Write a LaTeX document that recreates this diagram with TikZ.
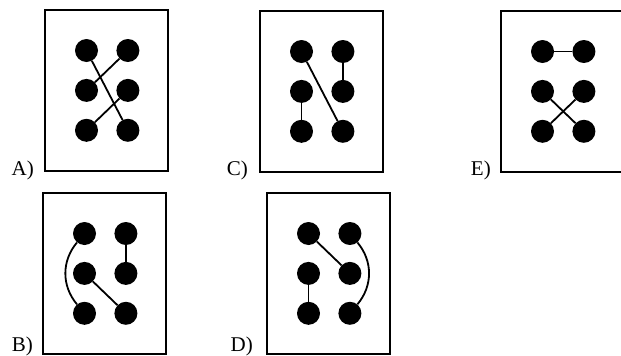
\documentclass[tikz,border=0pt]{standalone}
\usepackage{fontspec}
\setmainfont{Liberation Serif}
\usetikzlibrary{positioning}

\begin{document}
\begin{tikzpicture}[
    x=1pt, y=-1pt,
    % framed answer panel
    panel/.style={draw=black, line width=1.7pt},
    % black dot
    dotnode/.style={circle, fill=black, inner sep=0pt, minimum size=23pt},
    % line between two dots
    link/.style={draw=black, line width=1.8pt},
    % answer letter
    answer/.style={font=\fontsize{21}{25}\selectfont, inner sep=0pt, anchor=base east}
]
\useasboundingbox (0,0) rectangle (621,356);
\clip (0,0) rectangle (621,356);
% ── Panels with a 2x3 grid of dots ───────────────────────────
\foreach \p/\bx/\by in {A/45/10, B/43/193, C/260/11, D/267/193, E/501/11}{
    \draw[panel] (\bx,\by) rectangle ++(123,161);
    \node[dotnode] (\p1) at (\bx+41.5,\by+40.5) {};
    \node[dotnode, right=18pt of \p1] (\p2) {};
    \node[dotnode, below=16.5pt of \p1] (\p3) {};
    \node[dotnode, right=18pt of \p3] (\p4) {};
    \node[dotnode, below=16.5pt of \p3] (\p5) {};
    \node[dotnode, right=18pt of \p5] (\p6) {};
}
% ── Letters ───────────────────────────────────────────────────
\node[answer] (labA) at (34,175) {A)};
\node[answer] (labB) at (33,351) {B)};
\node[answer] (labC) at (248,175) {C)};
\node[answer] (labD) at (253,351) {D)};
\node[answer] (labE) at (491,175) {E)};
% ── A ─────────────────────────────────────────────────────────
\draw[link] (A1) -- (A6);
\draw[link] (A2) -- (A3);
\draw[link] (A4) -- (A5);
% ── B ─────────────────────────────────────────────────────────
\draw[link] (B1) to[bend right=40] (B5);
\draw[link] (B2) -- (B4);
\draw[link] (B3) -- (B6);
% ── C ─────────────────────────────────────────────────────────
\draw[link] (C1) -- (C6);
\draw[link] (C2) -- (C4);
\draw[link] (C3) -- (C5);
% ── D ─────────────────────────────────────────────────────────
\draw[link] (D1) -- (D4);
\draw[link] (D2) to[bend left=40] (D6);
\draw[link] (D3) -- (D5);
% ── E ─────────────────────────────────────────────────────────
\draw[link] (E1) -- (E2);
\draw[link] (E3) -- (E6);
\draw[link] (E4) -- (E5);
\end{tikzpicture}
\end{document}
